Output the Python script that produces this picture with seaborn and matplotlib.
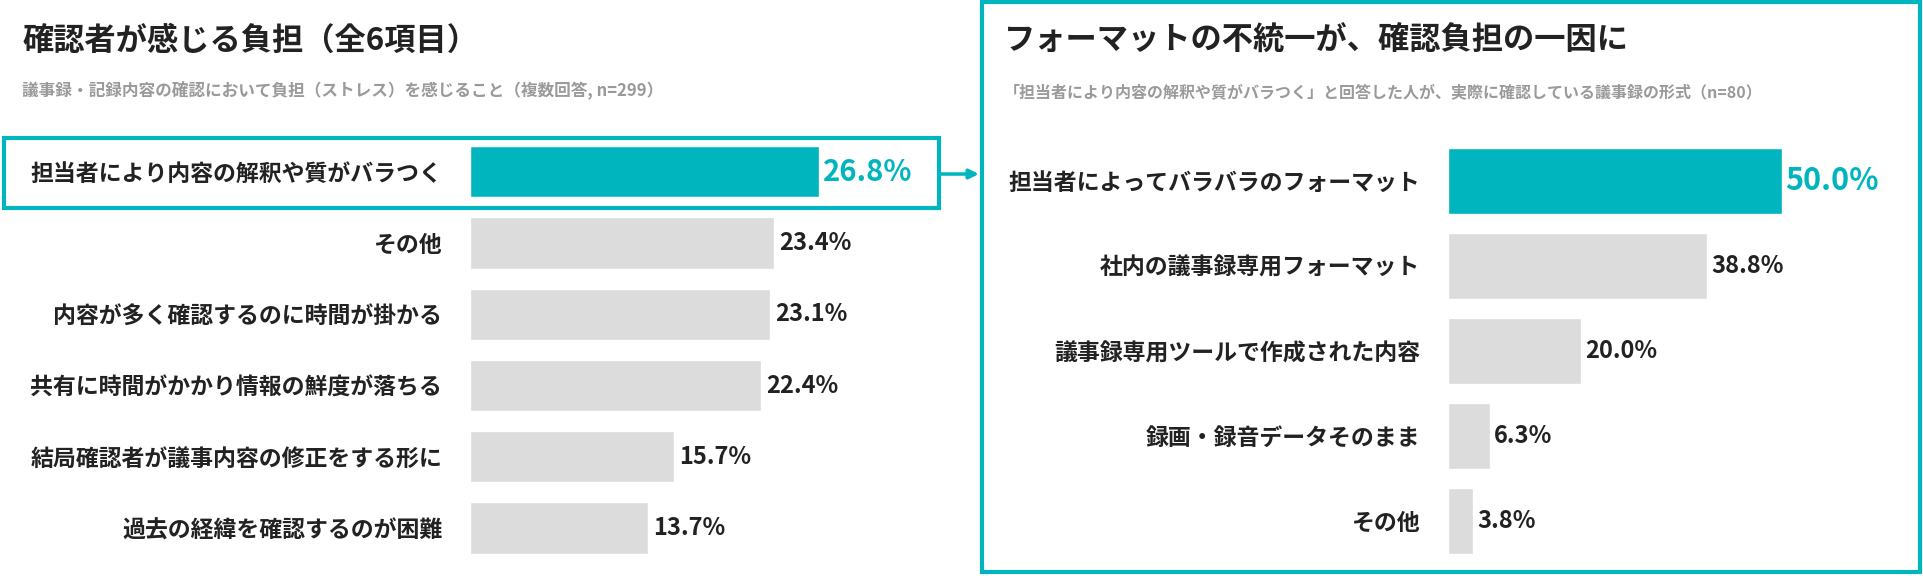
import matplotlib
matplotlib.use("Agg")
import matplotlib.pyplot as plt
from matplotlib.patches import Rectangle, FancyArrowPatch
import seaborn as sns
import pandas as pd

sns.set_theme(style="white")
plt.rcParams["font.family"] = ["Noto Sans CJK JP", "DejaVu Sans"]

TEAL = "#00B5BD"
GREY = "#DCDCDC"
DARK = "#222222"

left_labels = ["担当者により内容の解釈や質がバラつく", "その他", "内容が多く確認するのに時間が掛かる",
               "共有に時間がかかり情報の鮮度が落ちる", "結局確認者が議事内容の修正をする形に", "過去の経緯を確認するのが困難"]
left_values = [26.8, 23.4, 23.1, 22.4, 15.7, 13.7]

right_labels = ["担当者によってバラバラのフォーマット", "社内の議事録専用フォーマット", "議事録専用ツールで作成された内容",
                "録画・録音データそのまま", "その他"]
right_values = [50.0, 38.8, 20.0, 6.3, 3.8]

W, H = 1568.0, 470.0  # layout measured on reference preview
fig = plt.figure(figsize=(19.24, 5.76), dpi=100)


def rect(x0, y0, x1, y1):
    return [x0 / W, 1 - y1 / H, (x1 - x0) / W, (y1 - y0) / H]


def draw(ax, labels, values, xmax, width, first_size):
    df = pd.DataFrame({"label": labels, "value": values})
    colors = [TEAL] + [GREY] * (len(labels) - 1)
    sns.barplot(data=df, x="value", y="label", hue="label", palette=colors,
                legend=False, ax=ax, width=width, saturation=1)
    ax.set_xlim(0, xmax)
    ax.set_xlabel("")
    ax.set_ylabel("")
    ax.set_xticks([])
    ax.tick_params(axis="y", length=0, pad=20, labelsize=16.5)
    for t in ax.get_yticklabels():
        t.set_fontweight("bold")
        t.set_color(DARK)
    sns.despine(ax=ax, left=True, bottom=True)
    for i, v in enumerate(values):
        if i == 0:
            ax.text(v + xmax * 0.012, i, f"{v:.1f}%", va="center", ha="left",
                    fontsize=first_size, fontweight="bold", color=TEAL)
        else:
            ax.text(v + xmax * 0.012, i, f"{v:.1f}%", va="center", ha="left",
                    fontsize=17, fontweight="bold", color=DARK)


axl = fig.add_axes(rect(383, 111, 383 + 10.6 * 30, 460))
draw(axl, left_labels, left_values, 30, 0.72, 21)
axr = fig.add_axes(rect(1180, 113, 1180 + 5.44 * 50, 460))
draw(axr, right_labels, right_values, 50, 0.77, 22)

# highlight box on left, frame on right, connecting arrow
fig.patches.append(Rectangle((3 / W, 1 - 170 / H), 762 / W, 57 / H, transform=fig.transFigure,
                             fill=False, edgecolor=TEAL, linewidth=3))
fig.patches.append(Rectangle((800 / W, 1 - 467 / H), 765 / W, 465 / H, transform=fig.transFigure,
                             fill=False, edgecolor=TEAL, linewidth=3))
fig.patches.append(FancyArrowPatch((765 / W, 1 - 142 / H), (800 / W, 1 - 142 / H),
                                   transform=fig.transFigure, arrowstyle="-|>", mutation_scale=14,
                                   color=TEAL, linewidth=2.5))

fig.text(18 / W, 1 - 33 / H, "確認者が感じる負担（全6項目）", fontsize=22.5, fontweight="bold",
         color=DARK, va="center")
fig.text(18 / W, 1 - 73 / H, "議事録・記録内容の確認において負担（ストレス）を感じること（複数回答, n=299）",
         fontsize=12, fontweight="bold", color="#9A9A9A", va="center")
fig.text(818 / W, 1 - 33 / H, "フォーマットの不統一が、確認負担の一因に", fontsize=22.5, fontweight="bold",
         color=DARK, va="center")
fig.text(818 / W, 1 - 75 / H, "「担当者により内容の解釈や質がバラつく」と回答した人が、実際に確認している議事録の形式（n=80）",
         fontsize=11.5, fontweight="bold", color="#9A9A9A", va="center")

fig.savefig("out.png", dpi=100, facecolor="white")
